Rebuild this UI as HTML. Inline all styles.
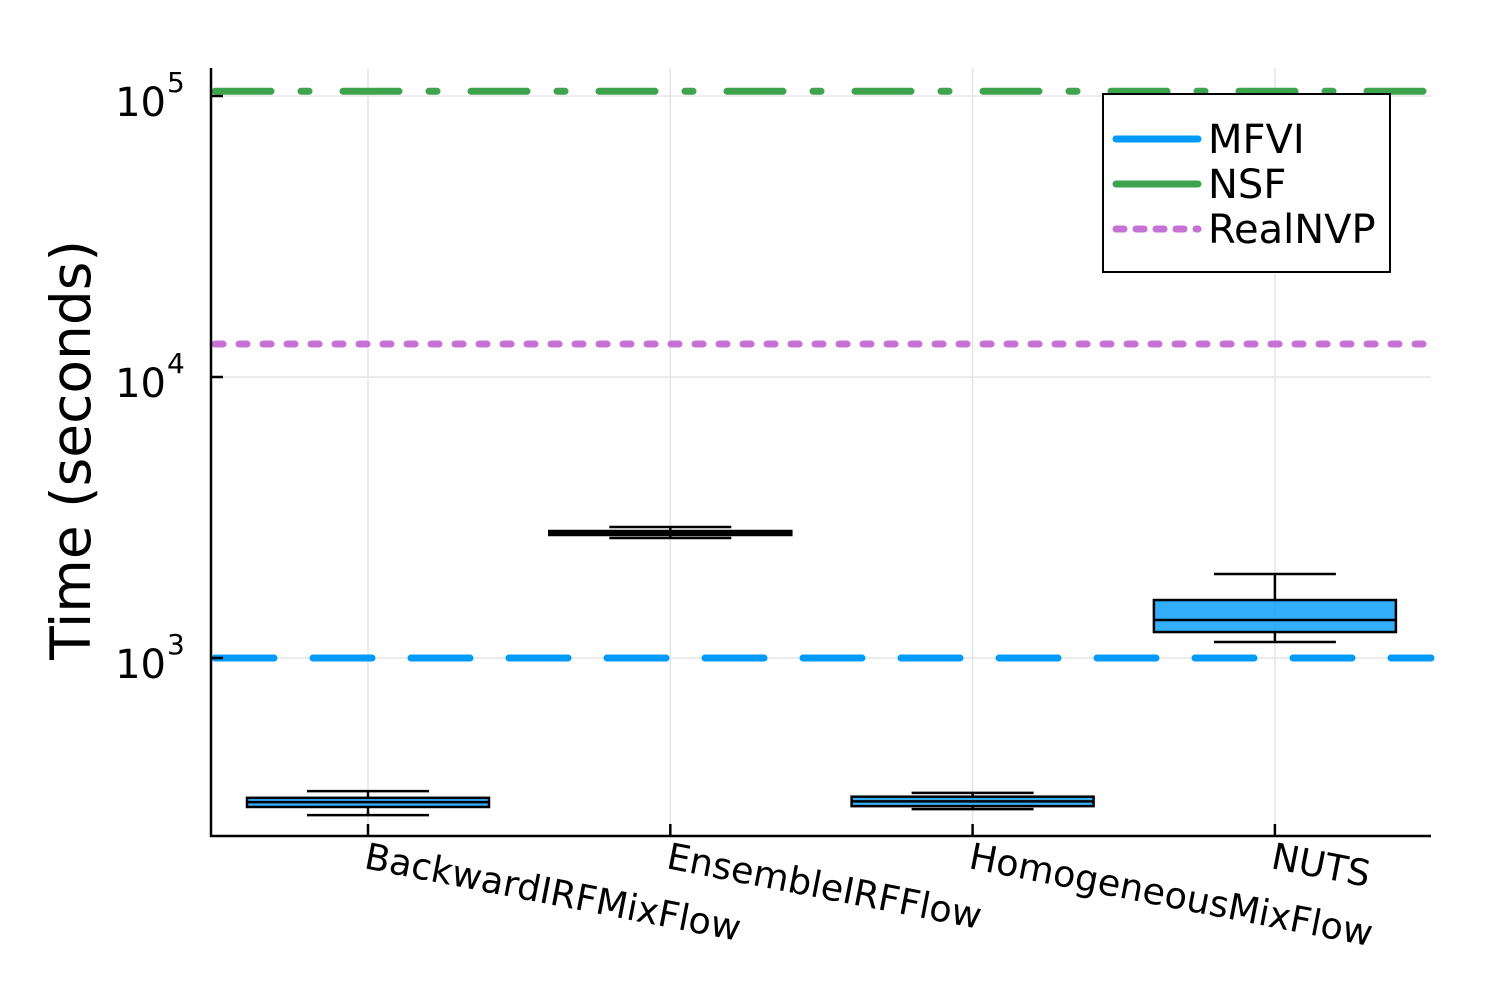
<!DOCTYPE html>
<html><head><meta charset="utf-8"><style>body{margin:0;background:#fff}svg{display:block}text{font-family:"DejaVu Sans","Liberation Sans",sans-serif}</style></head>
<body>
<svg id="chart" width="1500" height="1000"></svg>
<script>
const categories=["BackwardIRFMixFlow","EnsembleIRFFlow","HomogeneousMixFlow","NUTS"];
const whiskerLow=[276,2673,290,1140];
const q1=[295,2740,297,1237];
const median=[307,2786,309,1365];
const q3=[318,2831,321,1608];
const whiskerHigh=[336,2925,331,1991];
const refNames=["MFVI","NSF","RealNVP"];
const refValues=[1000,104000,13100];
const yTickExps=[3,4,5];

const NS="http://www.w3.org/2000/svg";
const svg=document.getElementById('chart');
const L=211,R=1431,T=68,B=836;
const y=v=>658-(Math.log10(v)-3)*281;
const xc=i=>368+i*302.3;
function mk(tag,attrs,parent){const e=document.createElementNS(NS,tag);for(const k in attrs)e.setAttribute(k,attrs[k]);(parent||svg).appendChild(e);return e;}

categories.forEach((c,i)=>{const g=mk('line',{x1:xc(i),x2:xc(i),y1:T,y2:B,stroke:'#e5e5e5','stroke-width':1.5});

});
yTickExps.forEach(e=>{const g=mk('line',{x1:L,x2:R,y1:y(10**e),y2:y(10**e),stroke:'#e5e5e5','stroke-width':1.5});

});

categories.forEach((c,i)=>{
 const g=mk('g',{});
 
 
 const cx=xc(i),hw=121,ww=61;
 mk('line',{x1:cx,x2:cx,y1:y(whiskerHigh[i]),y2:y(q3[i]),stroke:'#000','stroke-width':2.5},g);
 mk('line',{x1:cx,x2:cx,y1:y(q1[i]),y2:y(whiskerLow[i]),stroke:'#000','stroke-width':2.5},g);
 mk('line',{x1:cx-ww,x2:cx+ww,y1:y(whiskerHigh[i]),y2:y(whiskerHigh[i]),stroke:'#000','stroke-width':2.5},g);
 mk('line',{x1:cx-ww,x2:cx+ww,y1:y(whiskerLow[i]),y2:y(whiskerLow[i]),stroke:'#000','stroke-width':2.5},g);
 mk('rect',{x:cx-hw,y:y(q3[i]),width:2*hw,height:y(q1[i])-y(q3[i]),fill:'rgba(0,154,250,0.8)',stroke:'#000','stroke-width':2.5},g);
 mk('line',{x1:cx-hw,x2:cx+hw,y1:y(median[i]),y2:y(median[i]),stroke:'#000','stroke-width':2.5},g);
});

const refColors=['#009af9','#3da44d','#c771d6'];
const refDash=['59 39','56 30 8 34','8 16'];
refNames.forEach((n,i)=>{const l=mk('line',{x1:L+4,x2:R,y1:y(refValues[i]),y2:y(refValues[i]),stroke:refColors[i],'stroke-width':7,'stroke-linecap':'round','stroke-dasharray':refDash[i]});

});

const ax=mk('path',{d:`M${L},${T}V${B}H${R}`,fill:'none',stroke:'#000','stroke-width':2.5});


yTickExps.forEach(e=>{
 mk('line',{x1:L,x2:L+12,y1:y(10**e),y2:y(10**e),stroke:'#000','stroke-width':2.5});
 const t=mk('text',{x:166,y:y(10**e)+20,'font-size':40,'text-anchor':'end'});
 t.textContent='10';
 
 
 const s=mk('text',{x:167,y:y(10**e)-4,'font-size':28});
 s.textContent=String(e);
 
 
});
categories.forEach((c,i)=>{
 mk('line',{x1:xc(i),x2:xc(i),y1:B,y2:B-12,stroke:'#000','stroke-width':2.5});
 const t=mk('text',{x:xc(i)-5,y:868,'font-size':36.5,transform:`rotate(11 ${xc(i)-5} 868)`});
 t.textContent=c;
 
 
});
const yt=mk('text',{x:90,y:450,'font-size':55,'text-anchor':'middle',transform:'rotate(-90 90 450)'});
yt.textContent='Time (seconds)';



const lg=mk('g',{});


mk('rect',{x:1103,y:94,width:287,height:178,fill:'#fff',stroke:'#000','stroke-width':2},lg);
const legDash=['','','8 12'];
refNames.forEach((n,i)=>{
 const e=mk('g',{},lg);
 
 
 const yy=139+i*45;
 const a={x1:1116,x2:1198,y1:yy,y2:yy,stroke:refColors[i],'stroke-width':7,'stroke-linecap':'round'};
 if(legDash[i])a['stroke-dasharray']=legDash[i];
 mk('line',a,e);
 const t=mk('text',{x:1208,y:yy+14,'font-size':40},e);
 t.textContent=n;
});
</script>
</body></html>
